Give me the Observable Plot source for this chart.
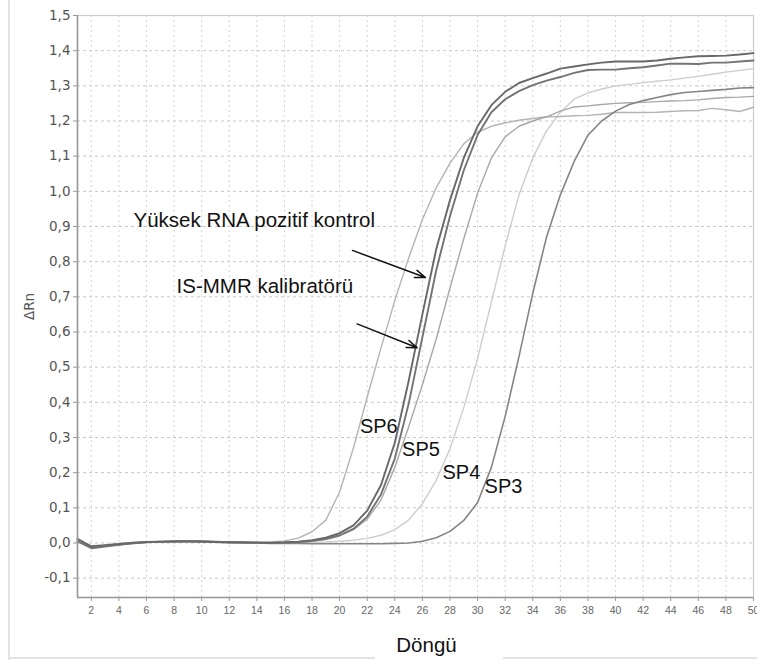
<!DOCTYPE html>
<html><head><meta charset="utf-8">
<script src="https://cdn.jsdelivr.net/npm/d3@7"></script>
<script src="https://cdn.jsdelivr.net/npm/@observablehq/plot@0.6"></script>
<style>
html,body{margin:0;padding:0;background:#fff;}
#wrap{position:relative;width:757px;height:660px;overflow:hidden;}
.bl{position:absolute;background:#e3e3e3;}
</style></head><body>
<div id="wrap">
  <div class="bl" style="left:8px;top:0;width:2px;height:660px"></div>
  <div class="bl" style="left:8px;top:657px;width:367px;height:2px"></div>
  <div class="bl" style="left:503px;top:657px;width:254px;height:2px"></div>
</div>
<script>
// Cycle numbers (x categories)
const cycles = [1,2,3,4,5,6,7,8,9,10,11,12,13,14,15,16,17,18,19,20,21,22,23,24,25,
  26,27,28,29,30,31,32,33,34,35,36,37,38,39,40,41,42,43,44,45,46,47,48,49,50];

// ΔRn values
const highRna = [0.012,-0.010,-0.006,-0.003,0.001,0.003,0.004,0.005,0.005,0.004,0.003,0.002,0.002,0.001,0.001,0.002,0.004,0.008,0.015,0.028,
  0.050,0.092,0.165,0.285,0.460,0.650,0.835,0.975,1.095,1.185,1.245,1.283,1.308,1.322,1.335,1.349,1.355,1.361,1.366,1.369,
  1.369,1.369,1.372,1.377,1.381,1.384,1.385,1.386,1.389,1.393];
const isMmr = [0.005,-0.015,-0.010,-0.005,-0.001,0.002,0.004,0.004,0.005,0.005,0.004,0.002,0.001,0.001,0.000,0.001,0.003,0.006,0.012,0.022,
  0.040,0.075,0.138,0.240,0.395,0.585,0.775,0.930,1.060,1.160,1.225,1.262,1.285,1.302,1.315,1.325,1.337,1.345,1.346,1.346,
  1.350,1.353,1.358,1.363,1.363,1.362,1.366,1.366,1.369,1.372];
const sp6 = [0.008,-0.013,-0.009,-0.004,0.000,0.003,0.004,0.005,0.005,0.004,0.003,0.002,0.002,0.002,0.003,0.006,0.014,0.032,0.065,0.145,
  0.270,0.415,0.555,0.690,0.810,0.920,1.010,1.080,1.135,1.168,1.185,1.195,1.202,1.207,1.212,1.213,1.215,1.216,1.219,1.224,
  1.224,1.224,1.225,1.227,1.229,1.230,1.236,1.232,1.227,1.239];
const sp5 = [0.010,-0.008,-0.006,-0.002,0.001,0.003,0.004,0.004,0.005,0.005,0.004,0.003,0.002,0.001,0.001,0.001,0.002,0.005,0.010,0.020,
  0.038,0.068,0.122,0.215,0.330,0.450,0.580,0.725,0.865,0.995,1.095,1.155,1.185,1.200,1.212,1.228,1.240,1.243,1.247,1.250,
  1.252,1.253,1.255,1.257,1.258,1.260,1.264,1.267,1.268,1.270];
const sp4 = [0.006,-0.010,-0.007,-0.003,0.000,0.002,0.003,0.004,0.004,0.004,0.003,0.002,0.001,0.000,0.000,0.000,0.001,0.002,0.003,0.005,
  0.008,0.013,0.022,0.038,0.065,0.112,0.178,0.268,0.385,0.525,0.685,0.845,0.990,1.095,1.172,1.225,1.262,1.280,1.291,1.300,
  1.304,1.309,1.313,1.317,1.322,1.327,1.333,1.339,1.344,1.349];
const sp3 = [0.004,-0.012,-0.009,-0.005,-0.001,0.002,0.003,0.004,0.004,0.003,0.002,0.001,0.000,0.000,-0.001,-0.001,-0.001,-0.002,-0.002,-0.002,
  -0.002,-0.002,-0.002,-0.001,0.000,0.005,0.015,0.033,0.064,0.115,0.215,0.360,0.530,0.710,0.870,0.990,1.085,1.160,1.200,1.228,
  1.247,1.258,1.267,1.275,1.281,1.284,1.287,1.290,1.294,1.295];

const seriesNames = ["SP4","SP6","SP5","SP3","IS-MMR kalibratörü","Yüksek RNA pozitif kontrol"];
const seriesValues = [sp4, sp6, sp5, sp3, isMmr, highRna];
const seriesColors = ["#cdcdcd","#b4b4b4","#a8a8a8","#858585","#747474","#686868"];
const seriesWidths = [1.4,1.4,1.4,1.6,1.9,1.9];

// Axis ticks
const xTicks = [2,4,6,8,10,12,14,16,18,20,22,24,26,28,30,32,34,36,38,40,42,44,46,48,50];
const yTicks = [-0.1,0,0.1,0.2,0.3,0.4,0.5,0.6,0.7,0.8,0.9,1.0,1.1,1.2,1.3,1.4,1.5];
const yTickLabels = ["-0,1","0,0","0,1","0,2","0,3","0,4","0,5","0,6","0,7","0,8","0,9","1,0","1,1","1,2","1,3","1,4","1,5"];
const xDomain = [1, 50];
const yDomain = [-0.155, 1.5];

// Annotations (in data units: cycle, ΔRn)
const annotations = [
  {text: "Yüksek RNA pozitif kontrol", c: 5.06, v: 0.898},
  {text: "IS-MMR kalibratörü", c: 8.18, v: 0.711}
];
const seriesLabels = [
  {text: "SP6", c: 22.84, v: 0.312},
  {text: "SP5", c: 25.90, v: 0.246},
  {text: "SP4", c: 28.83, v: 0.183},
  {text: "SP3", c: 31.88, v: 0.143}
];
const arrows = [
  {c1: 20.93, v1: 0.832, c2: 26.22, v2: 0.755},
  {c1: 21.27, v1: 0.623, c2: 25.62, v2: 0.555}
];

const rows = [];
seriesNames.forEach((name, si) => {
  cycles.forEach((c, i) => rows.push({series: name, cycle: c, value: seriesValues[si][i]}));
});

const lineMarks = seriesNames.map((name, si) =>
  Plot.line(rows.filter(r => r.series === name), {
    x: "cycle", y: "value", stroke: seriesColors[si], strokeWidth: seriesWidths[si], curve: "linear"
  })
);

const txtFont = "Liberation Sans, Arial, sans-serif";

const chart = Plot.plot({
  width: 757, height: 660,
  marginLeft: 77, marginRight: 4, marginTop: 15, marginBottom: 63,
  x: {domain: xDomain},
  y: {domain: yDomain},
  style: {background: "transparent", overflow: "visible"},
  marks: [
    Plot.ruleY(yTicks, {stroke: "#c8c8c8", strokeDasharray: "3,3", strokeWidth: 1}),
    Plot.ruleX(xTicks, {stroke: "#d4d4d4", strokeDasharray: "2,3", strokeWidth: 1}),
    Plot.frame({stroke: "#cccccc", strokeWidth: 1.2}),
    ...lineMarks,
    Plot.ruleX([xDomain[0]], {stroke: "#999", strokeWidth: 1.6}),
    Plot.ruleY([yDomain[0]], {stroke: "#999", strokeWidth: 1.6}),
    Plot.axisY({ticks: yTicks, tickFormat: d => yTickLabels[yTicks.indexOf(d)], tickSize: 4, tickPadding: 3,
      fontSize: 13.5, fontFamily: "DejaVu Sans, sans-serif", fill: "#555", stroke: "#999", label: null}),
    Plot.axisX({ticks: xTicks, tickSize: 4, tickPadding: 5, fontSize: 10.5,
      fontFamily: "Liberation Sans, Arial, sans-serif", fill: "#666", stroke: "#999", label: null}),
    Plot.text(["ΔRn"], {frameAnchor: "left", dx: -48, rotate: -90, textAnchor: "middle", lineAnchor: "middle",
      fontSize: 13.5, fontFamily: "DejaVu Sans, sans-serif", fill: "#555"}),
    Plot.text(["Döngü"], {frameAnchor: "bottom", dy: 54, dx: 11, textAnchor: "middle", lineAnchor: "bottom",
      fontSize: 20.5, fontFamily: txtFont, fill: "#111"}),
    Plot.text(annotations, {x: "c", y: "v", text: "text", textAnchor: "start", lineAnchor: "bottom",
      fontSize: 20.5, fontFamily: txtFont, fill: "#111"}),
    Plot.text(seriesLabels, {x: "c", y: "v", text: "text", textAnchor: "middle", lineAnchor: "bottom",
      fontSize: 20, fontFamily: txtFont, fill: "#111"}),
    Plot.arrow(arrows, {x1: "c1", y1: "v1", x2: "c2", y2: "v2", stroke: "#111", strokeWidth: 1.5,
      headLength: 11, headAngle: 40})
  ]
});
chart.style.position = "absolute";
chart.style.left = "0px";
chart.style.top = "0px";
document.getElementById("wrap").appendChild(chart);
</script>
</body></html>
